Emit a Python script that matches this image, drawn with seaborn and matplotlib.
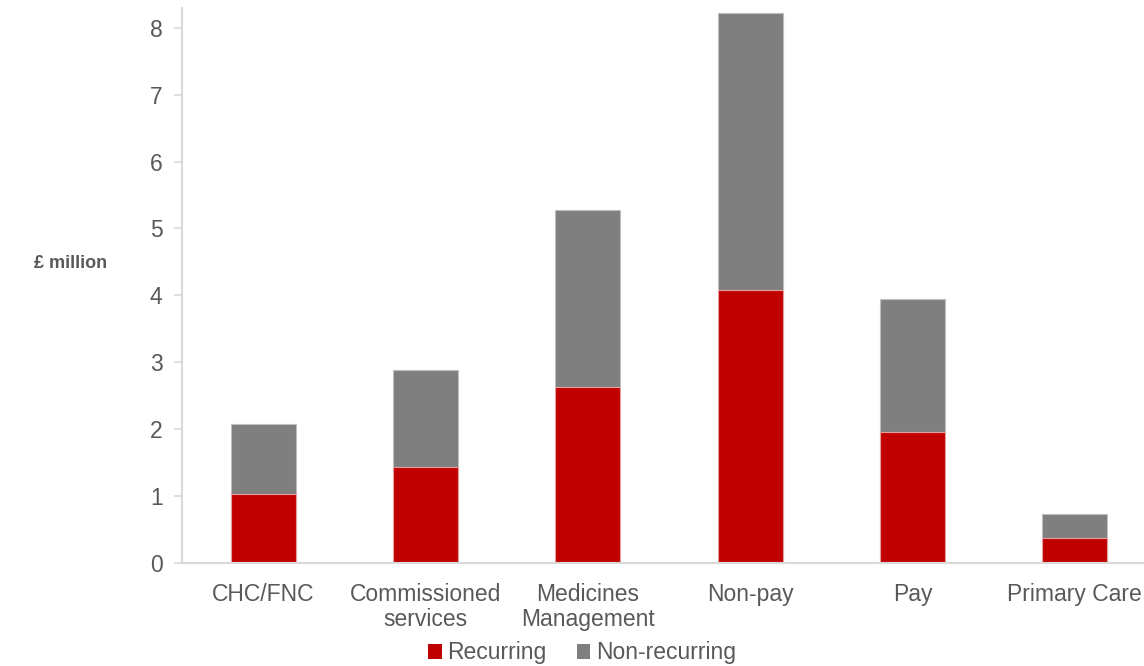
import matplotlib
matplotlib.use("Agg")
import matplotlib.pyplot as plt
import seaborn as sns
import pandas as pd
from matplotlib.patches import Patch

# Savings by area, £ million
categories = ["CHC/FNC", "Commissioned\nservices", "Medicines\nManagement",
              "Non-pay", "Pay", "Primary Care"]
recurring = [1.03, 1.43, 2.62, 4.08, 1.96, 0.36]
non_recurring = [1.04, 1.45, 2.65, 4.14, 1.98, 0.36]
y_ticks = [0, 1, 2, 3, 4, 5, 6, 7, 8]

RED = "#c00000"
GREY = "#7f7f7f"
TEXT = "#595959"
AXIS = "#d9d9d9"

sns.set_theme(style="white")
plt.rcParams["font.family"] = ["Liberation Sans", "DejaVu Sans"]

df = pd.DataFrame({
    "category": categories,
    "recurring": recurring,
    "total": [r + n for r, n in zip(recurring, non_recurring)],
})

fig = plt.figure(figsize=(11.44, 6.66), dpi=100)
ax = fig.add_axes([0.1591, 0.1554, 0.8514, 0.8326])

# stacked columns: full height in grey, recurring part drawn over it in red
sns.barplot(data=df, x="category", y="total", color=GREY, width=0.4,
            saturation=1, edgecolor="#bfbfbf", linewidth=0.8, ax=ax)
sns.barplot(data=df, x="category", y="recurring", color=RED, width=0.4,
            saturation=1, edgecolor="#e6a0a0", linewidth=0.8, ax=ax)

ax.set_xlim(-0.5, 5.5)
ax.set_ylim(0, 8.3)
ax.set_yticks(y_ticks)
ax.set_xlabel("")
ax.set_ylabel("")

for side in ["top", "right"]:
    ax.spines[side].set_visible(False)
for side in ["left", "bottom"]:
    ax.spines[side].set_color(AXIS)
    ax.spines[side].set_linewidth(1.5)

ax.tick_params(axis="y", which="both", left=True, length=6, width=1.2,
               color=AXIS, labelsize=16.5, labelcolor=TEXT, pad=8)
ax.tick_params(axis="x", bottom=False, labelsize=16.5, labelcolor=TEXT, pad=9)
for lbl in ax.get_xticklabels():
    lbl.set_linespacing(1.12)
    lbl.set_horizontalalignment("center")

fig.text(71 / 1144, 1 - 263 / 666, "£ million", ha="center", va="center",
         fontsize=13, fontweight="bold", color=TEXT)

handles = [Patch(facecolor=RED, edgecolor="none", label="Recurring"),
           Patch(facecolor=GREY, edgecolor="none", label="Non-recurring")]
fig.legend(handles=handles, loc="center", bbox_to_anchor=(582 / 1144, 1 - 653 / 666),
           ncol=2, frameon=False, fontsize=16.5, labelcolor=TEXT,
           handlelength=0.6, handleheight=0.6, handletextpad=0.25,
           columnspacing=1.3, borderaxespad=0)

fig.savefig("out.png", dpi=100)
